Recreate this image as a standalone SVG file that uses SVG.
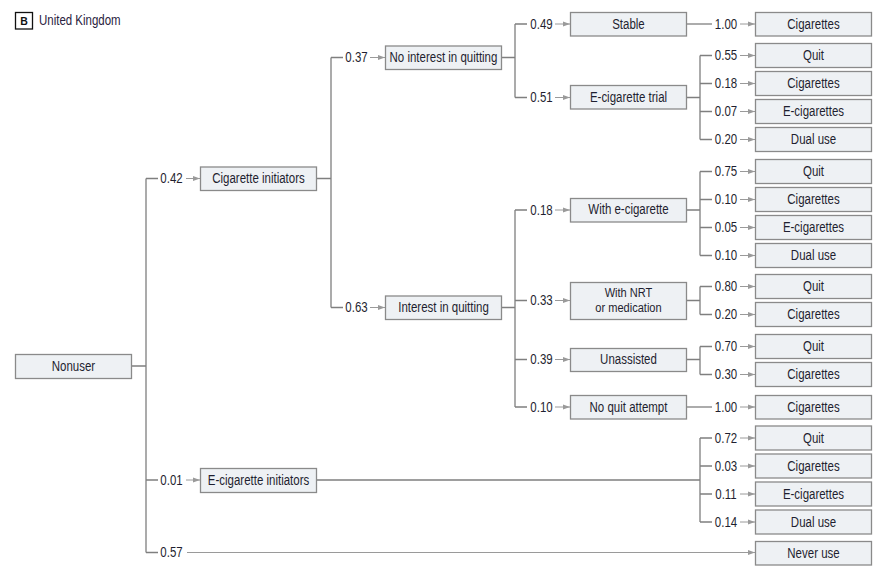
<svg xmlns="http://www.w3.org/2000/svg" width="886" height="575" viewBox="0 0 886 575">
<defs>
<style>
.bx{fill:#eef1f4;stroke:#8a8a8a;stroke-width:1.3}
.t{font-family:"Liberation Sans",Arial,sans-serif;font-size:14px;fill:#1f1f30;text-anchor:middle}
.ln{fill:none;stroke:#7f7f7f;stroke-width:1.3}
.ar{fill:none;stroke:#9a9a9a;stroke-width:1;marker-end:url(#ah)}
</style>
<marker id="ah" markerUnits="userSpaceOnUse" markerWidth="8" markerHeight="6" refX="7" refY="3" orient="auto">
<path d="M0,0.5 L7,3 L0,5.5 z" fill="#9a9a9a"/>
</marker>
</defs>
<rect width="886" height="575" fill="#ffffff"/>
<g id="header">
<rect x="15.5" y="12.5" width="17" height="16.5" fill="#fff" stroke="#111" stroke-width="1.3"/>
<text x="24" y="25" font-family="Liberation Sans,Arial,sans-serif" font-size="10.5" font-weight="bold" fill="#111" text-anchor="middle">B</text>
<text transform="scale(0.82 1)" x="47.56" y="25" font-family="Liberation Sans,Arial,sans-serif" font-size="14" fill="#2a2240">United Kingdom</text>
</g>
<g id="connectors">
<path class="ln" d="M131,366 H146 M146,178.5 V552.5 M146,178.5 H158 M146,480 H158 M146,552.5 H158"/>
<line class="ar" x1="186" y1="178.5" x2="200" y2="178.5"/>
<line class="ar" x1="186" y1="480" x2="200" y2="480"/>
<line class="ar" x1="187" y1="552.5" x2="755" y2="552.5"/>
<path class="ln" d="M316,178.5 H331 M331,57.5 V307.5 M331,57.5 H343 M331,307.5 H343"/>
<line class="ar" x1="370" y1="57.5" x2="385" y2="57.5"/>
<line class="ar" x1="370" y1="307.5" x2="385" y2="307.5"/>
<path class="ln" d="M501,57.5 H515 M515,24 V97.5 M515,24 H527 M515,97.5 H527"/>
<line class="ar" x1="555" y1="24" x2="570" y2="24"/>
<line class="ar" x1="555" y1="97.5" x2="570" y2="97.5"/>
<path class="ln" d="M501,307.5 H515 M515,210 V407 M515,210 H527 M515,300.5 H527 M515,359.5 H527 M515,407 H527"/>
<line class="ar" x1="555" y1="210" x2="570" y2="210"/>
<line class="ar" x1="555" y1="300.5" x2="570" y2="300.5"/>
<line class="ar" x1="555" y1="359.5" x2="570" y2="359.5"/>
<line class="ar" x1="555" y1="407" x2="570" y2="407"/>
<path class="ln" d="M686,24 H712"/>
<path class="ln" d="M686,97.5 H700 M700,55.5 V139.5 M700,55.5 H712 M700,83.5 H712 M700,111.5 H712 M700,139.5 H712"/>
<path class="ln" d="M686,210 H700 M700,171.5 V255.5 M700,171.5 H712 M700,199.5 H712 M700,227.5 H712 M700,255.5 H712"/>
<path class="ln" d="M686,300.5 H700 M700,286.5 V314.5 M700,286.5 H712 M700,314.5 H712"/>
<path class="ln" d="M686,359.5 H700 M700,346.5 V374.5 M700,346.5 H712 M700,374.5 H712"/>
<path class="ln" d="M686,407 H712"/>
<path class="ln" d="M316,480 H700 M700,438 V522 M700,438 H712 M700,466 H712 M700,494 H712 M700,522 H712"/>
<line class="ar" x1="740" y1="24" x2="755" y2="24"/>
<line class="ar" x1="740" y1="55.5" x2="755" y2="55.5"/>
<line class="ar" x1="740" y1="83.5" x2="755" y2="83.5"/>
<line class="ar" x1="740" y1="111.5" x2="755" y2="111.5"/>
<line class="ar" x1="740" y1="139.5" x2="755" y2="139.5"/>
<line class="ar" x1="740" y1="171.5" x2="755" y2="171.5"/>
<line class="ar" x1="740" y1="199.5" x2="755" y2="199.5"/>
<line class="ar" x1="740" y1="227.5" x2="755" y2="227.5"/>
<line class="ar" x1="740" y1="255.5" x2="755" y2="255.5"/>
<line class="ar" x1="740" y1="286.5" x2="755" y2="286.5"/>
<line class="ar" x1="740" y1="314.5" x2="755" y2="314.5"/>
<line class="ar" x1="740" y1="346.5" x2="755" y2="346.5"/>
<line class="ar" x1="740" y1="374.5" x2="755" y2="374.5"/>
<line class="ar" x1="740" y1="407" x2="755" y2="407"/>
<line class="ar" x1="740" y1="438" x2="755" y2="438"/>
<line class="ar" x1="740" y1="466" x2="755" y2="466"/>
<line class="ar" x1="740" y1="494" x2="755" y2="494"/>
<line class="ar" x1="740" y1="522" x2="755" y2="522"/>
<g transform="scale(0.82 1)">
<text class="t" x="209.15" y="183.5">0.42</text>
<text class="t" x="209.15" y="485">0.01</text>
<text class="t" x="209.15" y="557.5">0.57</text>
<text class="t" x="434.76" y="62.5">0.37</text>
<text class="t" x="434.76" y="312.5">0.63</text>
<text class="t" x="660.37" y="29">0.49</text>
<text class="t" x="660.37" y="102.5">0.51</text>
<text class="t" x="660.37" y="215">0.18</text>
<text class="t" x="660.37" y="305.5">0.33</text>
<text class="t" x="660.37" y="364.5">0.39</text>
<text class="t" x="660.37" y="412">0.10</text>
<text class="t" x="885.37" y="29">1.00</text>
<text class="t" x="885.37" y="60.5">0.55</text>
<text class="t" x="885.37" y="88.5">0.18</text>
<text class="t" x="885.37" y="116.5">0.07</text>
<text class="t" x="885.37" y="144.5">0.20</text>
<text class="t" x="885.37" y="176.5">0.75</text>
<text class="t" x="885.37" y="204.5">0.10</text>
<text class="t" x="885.37" y="232.5">0.05</text>
<text class="t" x="885.37" y="260.5">0.10</text>
<text class="t" x="885.37" y="291.5">0.80</text>
<text class="t" x="885.37" y="319.5">0.20</text>
<text class="t" x="885.37" y="351.5">0.70</text>
<text class="t" x="885.37" y="379.5">0.30</text>
<text class="t" x="885.37" y="412">1.00</text>
<text class="t" x="885.37" y="443">0.72</text>
<text class="t" x="885.37" y="471">0.03</text>
<text class="t" x="885.37" y="499">0.11</text>
<text class="t" x="885.37" y="527">0.14</text>
</g>
</g>
<g id="nonuser"><rect class="bx" x="15.5" y="354.5" width="116" height="24"/><text class="t" transform="scale(0.82 1)" x="89.63" y="371.5">Nonuser</text></g>
<g id="cig-init"><rect class="bx" x="200.5" y="167" width="116" height="23.5"/><text class="t" transform="scale(0.82 1)" x="315.24" y="183.5">Cigarette initiators</text></g>
<g id="ecig-init"><rect class="bx" x="200.5" y="468.5" width="116" height="24"/><text class="t" transform="scale(0.82 1)" x="315.24" y="485.5">E-cigarette initiators</text></g>
<g id="no-interest"><rect class="bx" x="385.5" y="46" width="116" height="23.5"/><text class="t" transform="scale(0.82 1)" x="540.85" y="62.5">No interest in quitting</text></g>
<g id="interest"><rect class="bx" x="385.5" y="296" width="116" height="23.5"/><text class="t" transform="scale(0.82 1)" x="540.85" y="312.5">Interest in quitting</text></g>
<g id="stable"><rect class="bx" x="570.5" y="12.5" width="116" height="23.5"/><text class="t" transform="scale(0.82 1)" x="766.46" y="29">Stable</text></g>
<g id="ecig-trial"><rect class="bx" x="570.5" y="85.5" width="116" height="23.5"/><text class="t" transform="scale(0.82 1)" x="766.46" y="102">E-cigarette trial</text></g>
<g id="with-ecig"><rect class="bx" x="570.5" y="198.5" width="116" height="23.5"/><text class="t" transform="scale(0.82 1)" x="766.46" y="214.5">With e-cigarette</text></g>
<g id="with-nrt"><rect class="bx" x="570.5" y="282.5" width="116" height="37"/><text class="t" transform="scale(0.82 1)" x="766.46" y="297" style="font-size:13.5px">With NRT</text><text class="t" transform="scale(0.82 1)" x="766.46" y="312.5" style="font-size:13.5px">or medication</text></g>
<g id="unassisted"><rect class="bx" x="570.5" y="348.5" width="116" height="23"/><text class="t" transform="scale(0.82 1)" x="766.46" y="364.5">Unassisted</text></g>
<g id="no-attempt"><rect class="bx" x="570.5" y="395.5" width="116" height="23.5"/><text class="t" transform="scale(0.82 1)" x="766.46" y="412">No quit attempt</text></g>
<g id="leaf1"><rect class="bx" x="755.5" y="12.5" width="116" height="23.5"/><text class="t" transform="scale(0.82 1)" x="992.07" y="29">Cigarettes</text></g>
<g id="leaf2"><rect class="bx" x="755.5" y="43.5" width="116" height="24"/><text class="t" transform="scale(0.82 1)" x="992.07" y="60.5">Quit</text></g>
<g id="leaf3"><rect class="bx" x="755.5" y="71.5" width="116" height="24"/><text class="t" transform="scale(0.82 1)" x="992.07" y="88.5">Cigarettes</text></g>
<g id="leaf4"><rect class="bx" x="755.5" y="99.5" width="116" height="24"/><text class="t" transform="scale(0.82 1)" x="992.07" y="116.5">E-cigarettes</text></g>
<g id="leaf5"><rect class="bx" x="755.5" y="127.5" width="116" height="24"/><text class="t" transform="scale(0.82 1)" x="992.07" y="144.5">Dual use</text></g>
<g id="leaf6"><rect class="bx" x="755.5" y="159.5" width="116" height="24"/><text class="t" transform="scale(0.82 1)" x="992.07" y="176.5">Quit</text></g>
<g id="leaf7"><rect class="bx" x="755.5" y="187.5" width="116" height="24"/><text class="t" transform="scale(0.82 1)" x="992.07" y="204.5">Cigarettes</text></g>
<g id="leaf8"><rect class="bx" x="755.5" y="215.5" width="116" height="24"/><text class="t" transform="scale(0.82 1)" x="992.07" y="232.5">E-cigarettes</text></g>
<g id="leaf9"><rect class="bx" x="755.5" y="243.5" width="116" height="24"/><text class="t" transform="scale(0.82 1)" x="992.07" y="260.5">Dual use</text></g>
<g id="leaf10"><rect class="bx" x="755.5" y="274.5" width="116" height="24"/><text class="t" transform="scale(0.82 1)" x="992.07" y="291.5">Quit</text></g>
<g id="leaf11"><rect class="bx" x="755.5" y="302.5" width="116" height="24"/><text class="t" transform="scale(0.82 1)" x="992.07" y="319.5">Cigarettes</text></g>
<g id="leaf12"><rect class="bx" x="755.5" y="334.5" width="116" height="24"/><text class="t" transform="scale(0.82 1)" x="992.07" y="351.5">Quit</text></g>
<g id="leaf13"><rect class="bx" x="755.5" y="362.5" width="116" height="24"/><text class="t" transform="scale(0.82 1)" x="992.07" y="379.5">Cigarettes</text></g>
<g id="leaf14"><rect class="bx" x="755.5" y="395.5" width="116" height="23.5"/><text class="t" transform="scale(0.82 1)" x="992.07" y="412">Cigarettes</text></g>
<g id="leaf15"><rect class="bx" x="755.5" y="426" width="116" height="24"/><text class="t" transform="scale(0.82 1)" x="992.07" y="443">Quit</text></g>
<g id="leaf16"><rect class="bx" x="755.5" y="454" width="116" height="24"/><text class="t" transform="scale(0.82 1)" x="992.07" y="471">Cigarettes</text></g>
<g id="leaf17"><rect class="bx" x="755.5" y="482" width="116" height="24"/><text class="t" transform="scale(0.82 1)" x="992.07" y="499">E-cigarettes</text></g>
<g id="leaf18"><rect class="bx" x="755.5" y="510" width="116" height="24"/><text class="t" transform="scale(0.82 1)" x="992.07" y="527">Dual use</text></g>
<g id="leaf19"><rect class="bx" x="755.5" y="541.5" width="116" height="23.5"/><text class="t" transform="scale(0.82 1)" x="992.07" y="558">Never use</text></g>
</svg>
